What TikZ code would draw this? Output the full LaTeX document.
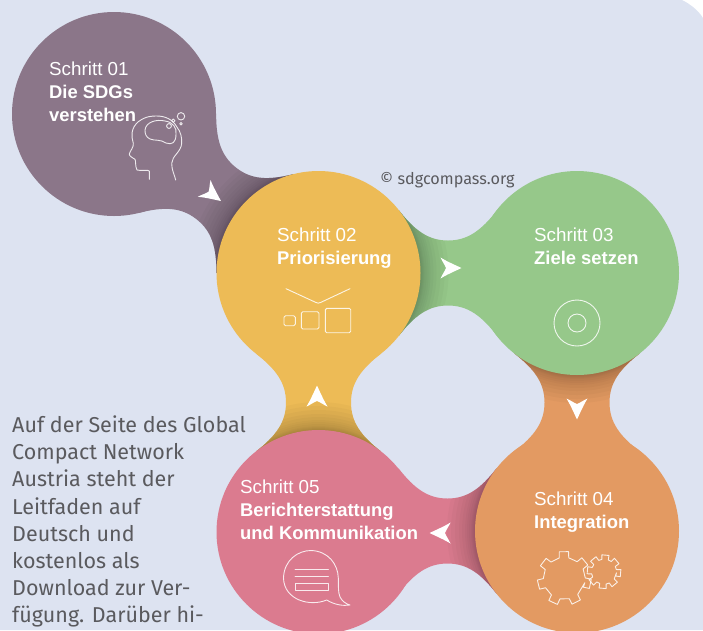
\documentclass[tikz,border=0pt]{standalone}
\usepackage{fontspec}
\setmainfont{Liberation Sans}
\newfontfamily\din{Fira Sans}
\definecolor{bgblue}{HTML}{DDE3F1}
\definecolor{cpurple}{HTML}{8B7689}
\definecolor{cyellow}{HTML}{EDBB56}
\definecolor{cgreen}{HTML}{96C88A}
\definecolor{corange}{HTML}{E39A62}
\definecolor{cpink}{HTML}{DB7B8F}
\definecolor{greytext}{HTML}{5A5A5E}
\tikzset{
  blob/.style={circle,inner sep=0pt,minimum size=204pt},
  head/.style={anchor=base west,inner sep=0pt,text=white,font=\fontsize{18.8}{20}\selectfont},
  headb/.style={head,font=\fontsize{18.4}{20}\selectfont\bfseries},
  icon/.style={draw=white,line width=0.9pt,opacity=.85,line join=round,line cap=round},
}
\newcommand\neckpath{(80.4,-62.8) .. controls (96.4,-42.3) and (110,-32.5) .. (129.5,-32.5)
  .. controls (149,-32.5) and (162.6,-42.3) .. (178.6,-62.8)
  -- (178.6,62.8) .. controls (162.6,42.3) and (149,32.5) .. (129.5,32.5)
  .. controls (110,32.5) and (96.4,42.3) .. (80.4,62.8) -- cycle}
\newcommand\neck[3]{%
  \begin{scope}[shift={(#1)},rotate=#2]
    \fill[#3] \neckpath;
    \begin{scope}
      \clip \neckpath;
      \foreach \i in {1,2,3,4,6,8,10,13,16,20,24,28}{\fill[black,opacity=.025] (0,0) circle[radius=102+\i];}
    \end{scope}
  \end{scope}}
\newcommand\chev[2]{\fill[white,shift={(#1)},rotate=#2]
  (10.5,0) .. controls (3,-3.5) and (-5,-7) .. (-10.5,-10.5) .. controls (-8.5,-6) and (-6,-3) .. (-5,0)
  .. controls (-6,3) and (-8.5,6) .. (-10.5,10.5) .. controls (-5,7) and (3,3.5) .. (10.5,0) -- cycle;}
\newcommand\gear[6]{% centre, outer r, inner r, start angle, tooth half width, tooth count
  \draw[icon,shift={(#1)}] (#4:#3)
   \foreach \n in {1,...,#6}{ -- (#4+360/#6*\n-#5-3:#3) -- (#4+360/#6*\n-#5:#2) -- (#4+360/#6*\n+#5:#2) -- (#4+360/#6*\n+#5+3:#3) } -- cycle;}
\begin{document}
\begin{tikzpicture}[x=1pt,y=-1pt]
\useasboundingbox (0,0) rectangle (703,630);
\fill[bgblue] (0,0) -- (682,0) .. controls (690,4) and (698,10) .. (703,18) -- (703,630) -- (0,630) -- cycle;
\coordinate (c1) at (114,114);
\coordinate (c2) at (318.5,273);
\coordinate (c3) at (577,273);
\coordinate (c4) at (577,531);
\coordinate (c5) at (318.5,532);
\neck{c2}{142.1}{cpurple}
\neck{c2}{0}{cgreen}
\neck{c3}{-90}{corange}
\neck{c4}{180}{cpink}
\neck{c5}{90}{cyellow}
\node[blob,fill=cpurple] (s1) at (c1) {};
\node[blob,fill=cyellow] (s2) at (c2) {};
\node[blob,fill=cgreen] (s3) at (c3) {};
\node[blob,fill=corange] (s4) at (c4) {};
\node[blob,fill=cpink] (s5) at (c5) {};
% arrowheads
\chev{212.6,194.7}{-37}
\chev{451,268}{0}
\chev{577,409}{-90}
\chev{440,533}{180}
\chev{317,396}{90}
% texts
\node[head] (t1) at (49,75.5) {Schritt 01};
\node[headb] (t1b) at (49,98) {Die SDGs};
\node[headb] (t1c) at (49,121) {verstehen};
\node[head] (t2) at (277,241.5) {Schritt 02};
\node[headb] (t2b) at (277,264) {Priorisierung};
\node[head] (t3) at (534,241.5) {Schritt 03};
\node[headb] (t3b) at (534,264) {Ziele setzen};
\node[head] (t4) at (534,505.5) {Schritt 04};
\node[headb] (t4b) at (534,528) {Integration};
\node[head] (t5) at (240,493.5) {Schritt 05};
\node[headb] (t5b) at (240,516) {Berichterstattung};
\node[headb] (t5c) at (240,539) {und Kommunikation};
\node[anchor=base west,inner sep=0pt,text=greytext,font=\din\fontsize{16.2}{17}\selectfont] (cr) at (380,184) {© sdgcompass.org};
\node[anchor=north west,inner sep=0pt,align=left,text=greytext,font=\din\fontsize{21.5}{27.2}\selectfont] (body) at (12,415.5)
 {Auf der Seite des Global\\Compact Network\\Austria steht der\\Leitfaden auf\\Deutsch und\\kostenlos als\\Download zur Ver-\\fügung. Darüber hi-};
% head icon
\draw[icon] (149.3,179.3) -- (149.3,171) .. controls (149,169.5) and (140,171) .. (137,170)
  .. controls (135,166) and (136,161) .. (135,159.3) .. controls (133,158) and (129,156) .. (129.3,154)
  .. controls (130,151) and (134,147) .. (133.3,143.3) .. controls (131,136) and (131,128) .. (138.3,121.7)
  .. controls (146,116) and (152,116) .. (156.7,116) .. controls (166,116) and (173,120) .. (176.7,126.7)
  .. controls (181,132) and (182,138) .. (181.7,143.3) .. controls (181,152) and (172,156) .. (171.7,163.3)
  .. controls (171.5,170) and (175,176) .. (175.7,180);
\draw[icon] (145,130) .. controls (146,122) and (156,119) .. (165,121) .. controls (173,122) and (177,128) .. (176,134)
  .. controls (176,143) and (172,145) .. (166,143) .. controls (160,139) and (155,141) .. (150,139) .. controls (146,137) and (145,134) .. (145,130) -- cycle;
\draw[icon] (169,126) circle[radius=2.4];
\draw[icon] (173.3,120.7) circle[radius=1.7];
\draw[icon] (181,116.3) circle[radius=3.7];
\draw[icon] (181,123.7) circle[radius=1.3];
% priorities icon
\draw[icon] (286,288.7) -- (316,302.5) .. controls (317.5,303.3) and (319,303.3) .. (320.5,302.5) -- (350,288.7);
\draw[icon,rounded corners=1.5pt] (284,315.7) rectangle (295.3,325.7);
\draw[icon,rounded corners=1.5pt] (301.3,311.7) rectangle (319,329);
\draw[icon,rounded corners=1.5pt] (325.3,308.3) rectangle (350.7,332.7);
% target icon
\draw[icon] (577,323) circle[radius=23];
\draw[icon] (577,323) circle[radius=9];
% gears
\gear{564.3,578.3}{27}{21}{12}{10}{7}
\gear{604,571.7}{17}{12.5}{5}{12}{8}
% speech bubble
\draw[icon] (326.7,600) .. controls (310,607) and (284,600) .. (283.5,578)
  .. controls (284,560) and (298,550.5) .. (311,550.5) .. controls (328,551) and (338,564) .. (338.3,578)
  .. controls (338.5,587) and (338,592) .. (340,597) .. controls (342,601) and (346,604) .. (350,605)
  .. controls (343,606) and (335,605) .. (326.7,600) -- cycle;
\draw[icon] (295,569.3) -- (328.3,569.3);
\draw[icon] (295,576) -- (328.3,576);
\draw[icon] (295,583.3) rectangle (328.3,590.7);
\end{tikzpicture}
\end{document}
